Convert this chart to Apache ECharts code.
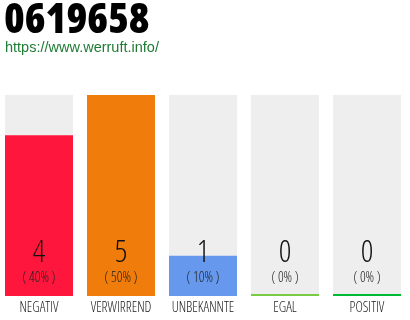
<!DOCTYPE html>
<html>
<head>
<meta charset="utf-8">
<script src="https://cdn.jsdelivr.net/npm/echarts@6/dist/echarts.min.js"></script>
<style>
  html, body { margin: 0; padding: 0; background: #fff; overflow: hidden; }
  /* shifted 2px left so the first bar can start at x = 5 */
  #chart { position: relative; left: -2px; width: 412px; height: 320px; }
</style>
</head>
<body>
<div id="chart"></div>
<script>
// Data
const categories = ['NEGATIV', 'VERWIRREND', 'UNBEKANNTE', 'EGAL', 'POSITIV'];
const counts = [4, 5, 1, 0, 0];
const percents = [40, 50, 10, 0, 0];
const barColors = ['#ff163c', '#f07c0c', '#6699ee', '#77cc44', '#00bb33'];

// Open Sans has condensed faces; the stretch keyword rides along in fontWeight
const cond = '"Open Sans", sans-serif';
const light = '300 condensed';

const chart = echarts.init(document.getElementById('chart'));
chart.setOption({
    animation: false,
    title: [{
        text: '0619658',
        left: 1,
        top: -5,
        textStyle: { fontFamily: cond, fontSize: 42, fontWeight: '800 condensed', color: '#000' }
    }, {
        text: 'https://www.werruft.info/',
        left: 2,
        top: 35,
        textStyle: { fontFamily: '"Liberation Sans", Arial, sans-serif', fontSize: 14.5, fontWeight: 'normal', color: '#1e7b34' }
    }],
    grid: { left: 0, right: 2, top: 95, bottom: 24 },
    xAxis: {
        type: 'category',
        data: categories,
        axisLine: { show: false },
        axisTick: { show: false },
        axisLabel: { interval: 0, margin: 5, fontFamily: cond, fontWeight: light, fontSize: 14, color: '#222' }
    },
    yAxis: { type: 'value', min: 0, max: 5, show: false, splitLine: { show: false } },
    series: [{
        type: 'bar',
        barWidth: 68,
        barMinHeight: 2,
        showBackground: true,
        backgroundStyle: { color: '#eeeeee' },
        data: counts.map((v, i) => ({ value: v, itemStyle: { color: barColors[i] } })),
        label: {
            show: true,
            position: 'insideBottom',
            distance: 10,
            formatter: (p) => `{n|${counts[p.dataIndex]}}\n{p|( ${percents[p.dataIndex]}% )}`,
            rich: {
                n: { fontFamily: cond, fontWeight: light, fontSize: 31, lineHeight: 34, color: '#111', align: 'center' },
                p: { fontFamily: cond, fontWeight: light, fontSize: 14, lineHeight: 16, color: '#222', align: 'center' }
            }
        }
    }]
});
</script>
</body>
</html>
